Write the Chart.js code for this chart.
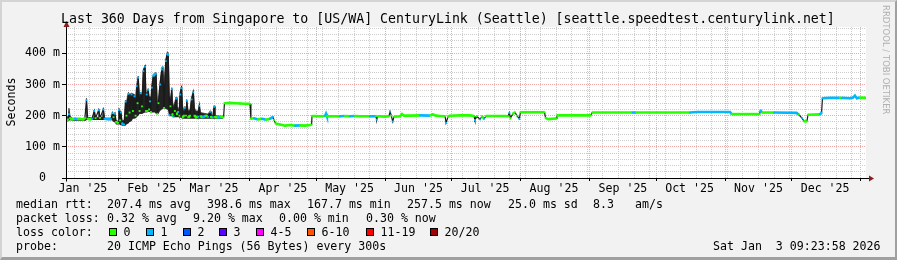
<!DOCTYPE html>
<html>
<head>
<meta charset="utf-8">
<script src="https://cdn.jsdelivr.net/npm/chart.js@4.4.1/dist/chart.umd.min.js"></script>
<style>
  html, body { margin: 0; padding: 0; background: #f2f2f2; }
  #wrap { position: relative; width: 897px; height: 260px; background: #f2f2f2; overflow: hidden;
          font-family: 'DejaVu Sans Mono', monospace; color: #000; }
  #wrap canvas { position: absolute; left: 0; top: 0; }
  .frame { position: absolute; left: 0; top: 0; width: 897px; height: 260px; box-sizing: border-box;
           border-top: 2px solid #d4d4d4; border-left: 2px solid #d4d4d4;
           border-right: 2px solid #a0a0a0; border-bottom: 3px solid #a0a0a0; pointer-events: none; }
  .t { position: absolute; white-space: pre; font-size: 11.6px; line-height: 14px; }
  .title { position: absolute; left: 61px; top: 11px; white-space: pre; font-size: 13.25px; line-height: 16px; }
  .ytitle { position: absolute; left: -19px; top: 95px; width: 60px; text-align: center; font-size: 11.6px;
            line-height: 14px; transform: rotate(-90deg); }
  .rrd { position: absolute; left: 881px; top: 5px; writing-mode: vertical-rl; font-size: 8.5px;
         color: #b0b0b0; white-space: pre; font-family: 'DejaVu Sans', sans-serif; }
  .box { position: absolute; width: 6px; height: 6px; border: 1px solid #000; }
</style>
</head>
<body>
<div id="wrap">
  <canvas id="chart" width="897" height="260"></canvas>
  <div class="title">Last 360 Days from Singapore to [US/WA] CenturyLink (Seattle) [seattle.speedtest.centurylink.net]</div>
  <div class="ytitle">Seconds</div>
  <div class="rrd">RRDTOOL / TOBI OETIKER</div>

  <div class="t" style="left:16px;top:197px">median rtt:</div>
  <div class="t" style="left:107px;top:197px">207.4 ms avg</div>
  <div class="t" style="left:207px;top:197px">398.6 ms max</div>
  <div class="t" style="left:307px;top:197px">167.7 ms min</div>
  <div class="t" style="left:407px;top:197px">257.5 ms now</div>
  <div class="t" style="left:508px;top:197px">25.0 ms sd</div>
  <div class="t" style="left:593px;top:197px">8.3</div>
  <div class="t" style="left:635px;top:197px">am/s</div>

  <div class="t" style="left:16px;top:211px">packet loss:</div>
  <div class="t" style="left:107px;top:211px">0.32 % avg</div>
  <div class="t" style="left:193px;top:211px">9.20 % max</div>
  <div class="t" style="left:279px;top:211px">0.00 % min</div>
  <div class="t" style="left:366px;top:211px">0.30 % now</div>

  <div class="t" style="left:16px;top:225px">loss color:</div>
  <div id="lossLegend"></div>

  <div class="t" style="left:16px;top:239px">probe:</div>
  <div class="t" style="left:107px;top:239px">20 ICMP Echo Pings (56 Bytes) every 300s</div>
  <div class="t" style="left:713px;top:239px">Sat Jan  3 09:23:58 2026</div>

  <div class="frame"></div>
</div>

<script>
// time axis is in days since 1 Jan 2025
const startDay = 7.39;   // Jan 8 2025 09:23
const endDay = 367.39;   // Jan 3 2026 09:23

const monthStarts = [0, 31, 59, 90, 120, 151, 181, 212, 243, 273, 304, 334, 365];
const monthLabels = ["Jan '25", "Feb '25", "Mar '25", "Apr '25", "May '25", "Jun '25",
                     "Jul '25", "Aug '25", "Sep '25", "Oct '25", "Nov '25", "Dec '25"];
const firstSunday = 4;

const lossLabels = ['0', '1', '2', '3', '4-5', '6-10', '11-19', '20/20'];
const lossColors = ['#26ff00', '#00b8ff', '#0059ff', '#5e00ff', '#ff00ff', '#ff5500', '#ff0000', '#a10000'];
const lossBoxX = [109, 146, 183, 219, 256, 307, 366, 430];

// median rtt (ms) and lost pings per sample
const medDays = [7.4, 8.3, 8.7, 9.2, 10.1, 11.4, 12.8, 13.7, 15.0, 15.9, 16.6, 17.1, 18.2, 19.1, 20.1, 20.7,
  22.1, 22.7, 24.2, 24.7, 26.3, 27.6, 28.3, 28.8, 29.4, 29.9, 30.8, 31.2, 31.7, 32.1, 32.6, 33.5, 34.2, 34.6,
  35.5, 36.0, 36.9, 37.5, 38.2, 38.7, 39.2, 39.6, 39.9, 40.5, 41.1, 41.6, 42.2, 43.0, 43.4, 43.7, 44.1, 44.4,
  44.8, 45.2, 45.6, 46.0, 46.7, 47.4, 47.9, 48.5, 49.0, 49.7, 50.5, 50.9, 51.5, 52.3, 53.0, 53.4, 53.9, 54.4,
  55.0, 55.3, 55.7, 56.4, 56.9, 57.3, 57.9, 58.4, 58.7, 59.4, 59.9, 60.5, 60.9, 61.4, 61.7, 62.4, 63.2, 63.9,
  64.7, 65.2, 65.9, 66.8, 67.4, 67.9, 69.0, 70.4, 71.3, 72.2, 72.6, 73.5, 74.0, 74.4, 75.8, 77.1, 78.3, 78.7,
  81.2, 85.7, 88.0, 90.2, 90.6, 92.0, 93.8, 95.6, 97.4, 99.2, 100.5, 101.0, 101.7, 103.7, 106.0, 108.2, 110.4,
  112.7, 114.9, 117.2, 117.9, 118.1, 121.7, 124.0, 124.4, 124.8, 130.7, 132.9, 135.2, 137.4, 139.7, 144.2,
  146.9, 147.2, 147.6, 151.0, 152.7, 153.2, 153.8, 154.4, 155.0, 157.7, 158.6, 159.5, 162.2, 166.7, 171.2,
  172.5, 173.9, 175.7, 178.0, 178.4, 179.3, 180.2, 184.7, 189.2, 191.0, 191.4, 192.3, 193.7, 194.6, 195.5,
  196.4, 200.4, 204.9, 206.3, 206.9, 207.4, 208.5, 209.4, 210.3, 211.4, 211.9, 222.7, 223.2, 224.3, 227.9,
  228.3, 243.6, 244.1, 262.0, 262.5, 264.0, 288.2, 291.3, 306.2, 306.9, 319.5, 319.9, 320.6, 326.0, 336.1,
  337.2, 338.6, 339.5, 340.8, 341.3, 346.7, 347.4, 347.8, 351.2, 355.7, 356.5, 360.2, 361.5, 362.4, 363.3,
  364.7, 367.4];
const medRtt = [183, 188, 205, 192, 188, 190, 189, 190, 188, 192, 250, 190, 188, 190, 215, 192,
  218, 193, 220, 190, 189, 189, 208, 195, 206, 180, 177, 218, 185, 210, 175, 172, 245, 200,
  270, 210, 268, 215, 262, 200, 295, 240, 322, 215, 272, 230, 343, 357, 215, 268, 215, 283,
  220, 246, 212, 290, 328, 333, 335, 206, 240, 300, 348, 355, 225, 375, 398, 395, 202, 230,
  285, 205, 197, 215, 255, 205, 212, 200, 268, 288, 195, 200, 225, 200, 248, 195, 200, 252,
  275, 200, 195, 197, 232, 198, 195, 200, 196, 212, 196, 195, 228, 196, 194, 196, 195, 240,
  241, 239, 238, 238, 190, 192, 188, 190, 187, 190, 196, 186, 175, 172, 168, 170, 168,
  169, 168, 170, 171, 199, 198, 199, 206, 198, 198, 199, 198, 199, 198, 198,
  198, 187, 198, 197, 198, 213, 200, 181, 197, 198, 205, 200, 200, 201, 200,
  204, 200, 199, 198, 177, 196, 200, 201, 201, 199, 186, 198, 188, 198, 190,
  199, 199, 199, 198, 209, 192, 206, 211, 200, 190, 211, 211, 193, 189, 191,
  201, 201, 210, 210, 210, 210, 210, 212, 212, 205, 205, 217, 210, 210, 209,
  203, 192, 182, 182, 203, 204, 210, 256, 257, 257, 257, 256, 258, 264, 256,
  258, 257];
const medLoss = [0, 0, 1, 0, 0, 1, 0, 0, 0, 0, 1, 0, 0, 1, 1, 0,
  1, 0, 1, 1, 1, 1, 1, 0, 1, 0, 0, 1, 0, 1, 1, 1, 1, 0,
  1, 0, 1, 0, 1, 0, 1, 0, 1, 0, 1, 0, 1, 1, 0, 1, 0, 1,
  0, 1, 0, 1, 1, 1, 1, 0, 0, 1, 1, 1, 0, 1, 1, 1, 1, 0,
  1, 0, 1, 0, 1, 0, 1, 0, 1, 1, 0, 0, 1, 0, 1, 0, 0, 1,
  1, 0, 0, 1, 1, 0, 1, 0, 1, 1, 0, 1, 1, 0, 1, 0, 0, 0,
  0, 0, 0, 0, 0, 1, 0, 1, 0, 1, 1, 0, 0, 0, 0, 0, 1,
  0, 0, 0, 0, 0, 0, 1, 1, 0, 1, 0, 1, 0, 0, 1,
  0, 1, 0, 0, 0, 1, 0, 1, 0, 0, 0, 0, 0, 1, 0,
  0, 0, 0, 0, 1, 0, 0, 0, 0, 0, 1, 0, 1, 0, 1,
  0, 0, 0, 0, 1, 0, 0, 0, 0, 1, 0, 0, 0, 0, 0,
  0, 0, 0, 0, 1, 0, 1, 1, 1, 0, 0, 1, 0, 1, 1,
  0, 1, 0, 0, 0, 1, 1, 1, 1, 0, 1, 1, 1, 1, 1,
  0, 0];

// smoke (spread of the pings) where it is wide enough to show
const smokeDays = [7.4, 8.3, 8.7, 9.2, 10.1, 16.4, 16.6, 17.1, 19.8, 20.1, 20.7, 21.8, 22.1, 22.7, 23.8, 24.2,
  24.7, 27.9, 28.3, 28.8, 29.4, 29.9, 30.9, 31.2, 31.7, 32.1, 32.6, 33.7, 34.2, 34.6, 35.5, 36.0, 36.9, 37.5,
  38.2, 38.7, 39.2, 39.9, 40.5, 41.1, 41.6, 42.2, 43.0, 43.4, 43.7, 44.4, 44.8, 45.2, 45.6, 46.0, 46.7, 47.4,
  47.9, 48.5, 49.0, 49.7, 50.5, 50.9, 51.5, 52.3, 53.0, 53.4, 53.9, 54.4, 55.0, 55.3, 55.7, 56.4, 56.9, 57.3,
  57.9, 58.4, 58.7, 59.4, 59.9, 60.5, 60.9, 61.4, 61.7, 62.4, 63.2, 63.9, 64.7, 65.2, 65.9, 66.8, 67.4, 67.9,
  71.3, 72.2, 72.6, 73.5, 74.0, 74.4, 78.0];
const smokeHi = [186, 200, 224, 200, 192, 190, 256, 195, 192, 218, 195, 195, 222, 196, 196, 225,
  192, 192, 212, 200, 210, 185, 182, 224, 215, 214, 185, 185, 250, 245, 275, 268, 272, 270,
  268, 255, 300, 327, 262, 276, 265, 348, 362, 275, 272, 287, 265, 260, 262, 295, 333, 337,
  338, 240, 250, 305, 352, 358, 300, 380, 405, 402, 265, 255, 290, 250, 230, 245, 260, 235,
  220, 230, 275, 295, 230, 215, 230, 225, 252, 215, 220, 258, 280, 225, 215, 215, 236, 210,
  205, 215, 205, 200, 232, 200, 198];
const smokeLo = [180, 182, 184, 185, 184, 184, 186, 186, 186, 186, 186, 186, 186, 186, 186, 186,
  186, 185, 184, 180, 178, 172, 172, 172, 172, 170, 168, 168, 168, 172, 175, 180, 182, 190,
  190, 192, 195, 200, 205, 205, 205, 208, 210, 210, 210, 212, 212, 212, 210, 210, 210, 210,
  205, 205, 205, 215, 220, 222, 222, 222, 220, 215, 198, 198, 198, 196, 195, 195, 195, 195,
  195, 195, 195, 192, 190, 190, 190, 190, 190, 190, 190, 190, 190, 190, 190, 190, 190, 190,
  190, 190, 190, 190, 190, 190, 190];

const yMax = 484.5;

function lossBucket(n) {
  if (n <= 3) return n;
  if (n <= 5) return 4;
  if (n <= 10) return 5;
  if (n <= 19) return 6;
  return 7;
}

// loss colour legend row
const lossLegend = document.getElementById('lossLegend');
lossLabels.forEach((lab, i) => {
  const b = document.createElement('div');
  b.className = 'box';
  b.style.left = lossBoxX[i] + 'px';
  b.style.top = '228px';
  b.style.background = lossColors[i];
  lossLegend.appendChild(b);
  const t = document.createElement('div');
  t.className = 't';
  t.style.left = (lossBoxX[i] + 14.6) + 'px';
  t.style.top = '225px';
  t.textContent = lab;
  lossLegend.appendChild(t);
});

// x grid: weekly minor lines, monthly major lines, labels mid-month
const weekDays = [];
for (let d = firstSunday; d <= endDay; d += 7) if (d >= startDay) weekDays.push(d);
const majorDays = monthStarts.filter(d => d >= startDay && d <= endDay);
const labelDays = monthStarts.slice(0, 12).map(d => d + 15);
const xTickValues = Array.from(new Set([...weekDays, ...majorDays, ...labelDays])).sort((a, b) => a - b);

const yTickValues = [];
for (let v = 0; v <= 480; v += 20) yTickValues.push(v);

const monoFont = { family: "'DejaVu Sans Mono', monospace", size: 11.6 };

const plotBg = {
  id: 'plotBg',
  beforeDraw(chart) {
    const { ctx, chartArea: a } = chart;
    ctx.save();
    ctx.fillStyle = '#ffffff';
    ctx.fillRect(a.left, a.top, a.right - a.left, a.bottom - a.top);
    ctx.restore();
  }
};

const axes = {
  id: 'axes',
  afterDraw(chart) {
    const { ctx, chartArea: a } = chart;
    const x0 = Math.round(a.left) + 0.5;
    const y0 = Math.round(a.bottom) + 0.5;
    ctx.save();
    ctx.strokeStyle = '#000';
    ctx.lineWidth = 1;
    ctx.beginPath();
    ctx.moveTo(x0 - 3, y0);
    ctx.lineTo(a.right + 4, y0);
    ctx.moveTo(x0, y0 + 3);
    ctx.lineTo(x0, a.top - 3);
    ctx.stroke();
    ctx.fillStyle = '#8b1c1c';
    ctx.beginPath();
    ctx.moveTo(x0, a.top - 6);
    ctx.lineTo(x0 - 3, a.top);
    ctx.lineTo(x0 + 3, a.top);
    ctx.closePath();
    ctx.fill();
    ctx.beginPath();
    ctx.moveTo(a.right + 8, y0);
    ctx.lineTo(a.right + 3, y0 - 3);
    ctx.lineTo(a.right + 3, y0 + 3);
    ctx.closePath();
    ctx.fill();
    ctx.restore();
  }
};

const toPoints = (xs, ys) => xs.map((d, i) => ({ x: d, y: ys[i] }));

new Chart(document.getElementById('chart').getContext('2d'), {
  type: 'line',
  data: {
    datasets: [
      {
        label: 'smoke low',
        data: toPoints(smokeDays, smokeLo),
        borderWidth: 0,
        pointRadius: 0,
        fill: false,
        order: 2
      },
      {
        label: 'smoke high',
        data: toPoints(smokeDays, smokeHi),
        borderWidth: 0.8,
        borderColor: '#3a3a3a',
        backgroundColor: '#222222',
        pointRadius: 0,
        fill: '-1',
        order: 1
      },
      {
        label: 'median rtt',
        data: toPoints(medDays, medRtt),
        borderWidth: 2,
        pointRadius: 1.3,
        pointStyle: 'rect',
        pointBorderWidth: 0,
        pointBackgroundColor: medLoss.map(n => lossColors[lossBucket(n)]),
        segment: {
          borderColor: c => Math.abs(c.p1.parsed.y - c.p0.parsed.y) > 8 ? '#1a1a1a'
                                : lossColors[lossBucket(medLoss[c.p0DataIndex])],
          borderWidth: c => Math.abs(c.p1.parsed.y - c.p0.parsed.y) > 8 ? 1.2 : 2.6
        },
        fill: false,
        order: 0
      }
    ]
  },
  options: {
    responsive: false,
    animation: false,
    events: [],
    layout: { padding: { top: 27, right: 31, bottom: 62, left: 0 } },
    plugins: { legend: { display: false }, tooltip: { enabled: false } },
    scales: {
      x: {
        type: 'linear',
        min: startDay,
        max: endDay,
        afterBuildTicks: s => { s.ticks = xTickValues.map(v => ({ value: v })); },
        afterFit: s => { s.height = 20; },
        ticks: {
          autoSkip: false, maxRotation: 0, minRotation: 0, padding: 1,
          font: monoFont, color: '#000',
          callback: v => {
            const i = labelDays.indexOf(v);
            return i >= 0 ? monthLabels[i] : '';
          }
        },
        grid: {
          lineWidth: 1,
          tickLength: 3,
          color: c => majorDays.includes(c.tick.value) ? '#f0a8a8'
                      : weekDays.includes(c.tick.value) ? '#cccccc' : 'rgba(0,0,0,0)',
          tickColor: c => majorDays.includes(c.tick.value) ? '#000' : 'rgba(0,0,0,0)'
        },
        border: { display: false, dash: [1, 1] }
      },
      y: {
        min: 0,
        max: yMax,
        afterBuildTicks: s => { s.ticks = yTickValues.map(v => ({ value: v })); },
        afterFit: s => { s.width = 66; },
        ticks: {
          autoSkip: false, padding: 2, font: monoFont, color: '#000',
          // rrdtool pads the bare zero so it lines up with the digits above
          callback: v => v % 100 === 0 ? (v === 0 ? '0  ' : v + ' m') : ''
        },
        grid: {
          lineWidth: 1,
          tickLength: 4,
          color: c => c.tick.value === 0 ? 'rgba(0,0,0,0)' : c.tick.value % 100 === 0 ? '#f0a8a8' : '#cccccc',
          tickColor: c => c.tick.value % 100 === 0 ? '#000' : 'rgba(0,0,0,0)'
        },
        border: { display: false, dash: [1, 1] }
      }
    }
  },
  plugins: [plotBg, axes]
});
</script>
</body>
</html>
